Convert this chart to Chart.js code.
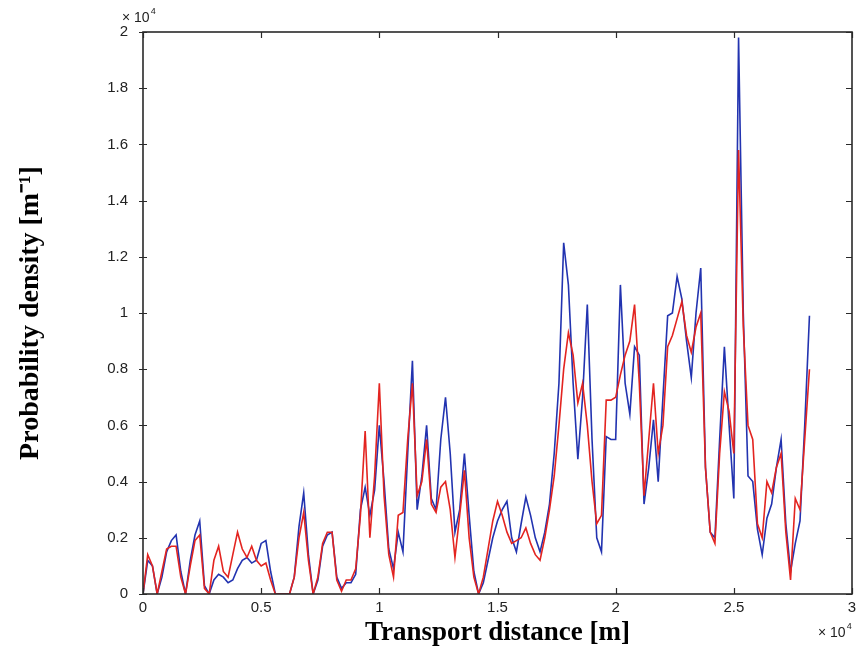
<!DOCTYPE html>
<html><head><meta charset="utf-8">
<script src="https://cdn.jsdelivr.net/npm/chart.js@4"></script>
<style>html,body{margin:0;padding:0;background:#fff}#wrap{width:856px;height:661px}</style>
</head><body><div id="wrap"><canvas id="c" width="856" height="661"></canvas></div>
<script>
// Transport distance (units of 10^4 m)
const distance = [0,0.02,0.04,0.06,0.08,0.1,0.12,0.14,0.16,0.18,0.2,0.22,0.24,0.26,0.28,0.3,0.32,0.34,0.36,0.38,
0.4,0.42,0.44,0.46,0.48,0.5,0.52,0.54,0.56,0.58,0.6,0.62,0.64,0.66,0.68,0.7,0.72,0.74,0.76,0.78,
0.8,0.82,0.84,0.86,0.88,0.9,0.92,0.94,0.96,0.98,1,1.02,1.04,1.06,1.08,1.1,1.12,1.14,1.16,1.18,
1.2,1.22,1.24,1.26,1.28,1.3,1.32,1.34,1.36,1.38,1.4,1.42,1.44,1.46,1.48,1.5,1.52,1.54,1.56,1.58,
1.6,1.62,1.64,1.66,1.68,1.7,1.72,1.74,1.76,1.78,1.8,1.82,1.84,1.86,1.88,1.9,1.92,1.94,1.96,1.98,
2,2.02,2.04,2.06,2.08,2.1,2.12,2.14,2.16,2.18,2.2,2.22,2.24,2.26,2.28,2.3,2.32,2.34,2.36,2.38,
2.4,2.42,2.44,2.46,2.48,2.5,2.52,2.54,2.56,2.58,2.6,2.62,2.64,2.66,2.68,2.7,2.72,2.74,2.76,2.78,
2.8,2.82];
// Probability density (units of 10^-4 m^-1)
const redSeries = [0,0.14,0.1,0,0.08,0.16,0.17,0.17,0.06,0,0.1,0.19,0.21,0.02,0,
0.12,0.17,0.08,0.06,0.14,0.22,0.16,0.13,0.17,0.12,0.1,0.11,0.05,0,0,0,0,
0.06,0.2,0.29,0.12,0,0.06,0.18,0.22,0.22,0.05,0.01,0.05,0.05,0.09,
0.28,0.58,0.2,0.42,0.75,0.35,0.14,0.06,0.28,0.29,0.55,0.75,0.35,0.4,0.55,0.32,0.29,0.38,0.4,0.3,0.13,0.28,0.44,0.2,0.06,
0,0.06,0.16,0.26,0.33,0.28,0.22,0.18,0.19,0.2,0.235,0.18,0.14,0.12,0.2,
0.3,0.42,0.6,0.8,0.93,0.85,0.68,0.75,0.6,0.4,0.25,0.28,0.69,0.69,0.7,0.78,0.85,0.9,1.03,0.75,0.35,0.55,0.75,0.5,0.6,0.88,0.92,0.98,1.04,0.92,
0.86,0.95,1.0,0.45,0.22,0.18,0.5,0.72,0.65,0.5,1.58,0.95,0.6,0.55,0.25,0.2,0.4,0.36,0.45,0.5,0.22,0.05,0.34,0.3,0.55,0.8];
const blueSeries = [0,0.12,0.1,0,0.06,0.15,0.19,0.21,0.08,0,0.12,0.21,0.26,0.03,0,
0.05,0.07,0.06,0.04,0.05,0.09,0.12,0.13,0.11,0.12,0.18,0.19,0.08,0,0,0,0,
0.06,0.24,0.36,0.14,0,0.05,0.17,0.21,0.22,0.06,0.02,0.04,0.04,0.07,
0.3,0.38,0.28,0.37,0.6,0.4,0.16,0.09,0.22,0.15,0.5,0.83,0.3,0.42,0.6,0.34,0.3,0.55,0.7,0.5,0.22,0.3,0.5,0.28,0.08,
0,0.04,0.12,0.2,0.26,0.3,0.33,0.2,0.15,0.25,0.345,0.28,0.2,0.15,0.22,
0.32,0.5,0.75,1.25,1.1,0.75,0.48,0.7,1.03,0.55,0.2,0.15,0.56,0.55,0.55,1.1,0.75,0.64,0.88,0.85,0.32,0.45,0.62,0.4,0.7,0.99,1.0,1.13,1.05,0.9,
0.77,1.0,1.16,0.45,0.22,0.2,0.55,0.88,0.6,0.34,1.98,1.0,0.42,0.4,0.23,0.14,0.27,0.32,0.45,0.55,0.25,0.08,0.18,0.26,0.6,0.99];
const xTicks = [0,0.5,1,1.5,2,2.5,3];
const xTickLabels = ['0','0.5','1','1.5','2','2.5','3'];
const yTicks = [0,0.2,0.4,0.6,0.8,1,1.2,1.4,1.6,1.8,2];
const yTickLabels = ['0','0.2','0.4','0.6','0.8','1','1.2','1.4','1.6','1.8','2'];
const xTitle = 'Transport distance [m]';
const yTitle = 'Probability density [m\u207B\u00B9]';
const expBase = '\u00D7 10';
const expPower = '4';

const toPoints = arr => arr.map((v, i) => ({x: distance[i], y: v}));

const framePlugin = {
  id: 'frame',
  afterDraw(chart) {
    const {ctx, chartArea: a, scales} = chart;
    ctx.save();
    ctx.strokeStyle = '#2a2a2a';
    ctx.lineWidth = 1.6;
    ctx.strokeRect(a.left, a.top, a.right - a.left, a.bottom - a.top);
    ctx.lineWidth = 1.2;
    ctx.beginPath();
    xTicks.forEach(v => {
      const px = Math.round(scales.x.getPixelForValue(v)) + 0.5;
      ctx.moveTo(px, a.bottom); ctx.lineTo(px, a.bottom - 6);
      ctx.moveTo(px, a.top); ctx.lineTo(px, a.top + 6);
    });
    yTicks.forEach(v => {
      const py = Math.round(scales.y.getPixelForValue(v)) + 0.5;
      ctx.moveTo(a.left - 4, py); ctx.lineTo(a.left + 4, py);
      ctx.moveTo(a.right, py); ctx.lineTo(a.right - 6, py);
    });
    ctx.stroke();
    ctx.fillStyle = '#222';
    ctx.textBaseline = 'alphabetic';
    ctx.textAlign = 'left';
    ctx.font = '14px "Liberation Sans", Arial, sans-serif';
    ctx.fillText(expBase, a.left - 21, 22);
    let w = ctx.measureText(expBase).width;
    ctx.font = '9px "Liberation Sans", Arial, sans-serif';
    ctx.fillText(expPower, a.left - 21 + w + 1, 14);
    ctx.font = '14px "Liberation Sans", Arial, sans-serif';
    ctx.fillText(expBase, a.right - 34, 637);
    ctx.font = '9px "Liberation Sans", Arial, sans-serif';
    ctx.fillText(expPower, a.right - 34 + w + 1, 629);
    ctx.restore();
  }
};

new Chart(document.getElementById('c'), {
  type: 'line',
  data: {
    datasets: [
      {label: 'red', data: toPoints(redSeries), borderColor: '#e32420', borderWidth: 1.6, pointRadius: 0, tension: 0, order: 0},
      {label: 'blue', data: toPoints(blueSeries), borderColor: '#2233b0', borderWidth: 1.6, pointRadius: 0, tension: 0, order: 1}
    ]
  },
  options: {
    responsive: false,
    animation: false,
    events: [],
    layout: {padding: {left: 0, top: 32, right: 4, bottom: 0}},
    plugins: {legend: {display: false}, tooltip: {enabled: false}},
    scales: {
      x: {
        type: 'linear', min: 0, max: 3,
        afterBuildTicks: s => { s.ticks = xTicks.map(v => ({value: v})); },
        afterFit: s => { s.height = 67; s.paddingLeft = 0; s.paddingRight = 0; },
        grid: {display: false}, border: {display: false},
        ticks: {autoSkip: false, maxRotation: 0, padding: -3, color: '#222',
          font: {family: '"Liberation Sans", Arial, sans-serif', size: 15},
          callback: (v, i) => xTickLabels[i]},
        title: {display: true, text: xTitle, color: '#000',
          font: {family: '"Liberation Serif", "Times New Roman", serif', size: 27, weight: 'bold'},
          padding: {top: 0, bottom: 12}}
      },
      y: {
        type: 'linear', min: 0, max: 2,
        afterBuildTicks: s => { s.ticks = yTicks.map(v => ({value: v})); },
        afterFit: s => { s.width = 143; s.paddingTop = 0; s.paddingBottom = 0; },
        grid: {display: false}, border: {display: false},
        ticks: {autoSkip: false, padding: 7, color: '#222',
          font: {family: '"Liberation Sans", Arial, sans-serif', size: 15},
          callback: (v, i) => yTickLabels[i]},
        title: {display: true, text: yTitle, color: '#000',
          font: {family: '"Liberation Serif", "Times New Roman", serif', size: 28, weight: 'bold'},
          padding: {top: 14, bottom: 0}}
      }
    }
  },
  plugins: [framePlugin]
});
</script></body></html>
